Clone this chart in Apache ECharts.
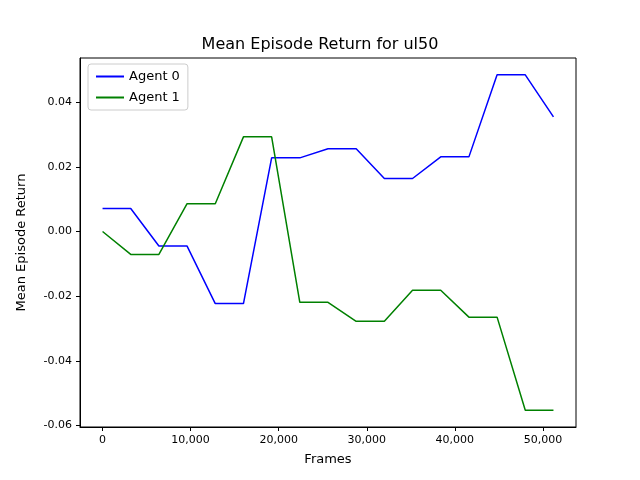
<!DOCTYPE html>
<html>
<head>
<meta charset="utf-8">
<script src="https://cdn.jsdelivr.net/npm/echarts@6/dist/echarts.min.js"></script>
<style>html,body{margin:0;padding:0;background:#fff}#chart{width:640px;height:480px}</style>
</head>
<body>
<div id="chart"></div>
<script>
var frames = [0, 3200, 6400, 9600, 12800, 16000, 19200, 22400, 25600, 28800, 32000, 35200, 38400, 41600, 44800, 48000, 51200];
var agent0 = [0.0071, 0.0071, -0.0045, -0.0045, -0.0223, -0.0223, 0.0228, 0.0228, 0.0256, 0.0256, 0.0164, 0.0164, 0.0231, 0.0231, 0.0485, 0.0485, 0.0355];
var agent1 = [0.0, -0.0071, -0.0071, 0.0086, 0.0086, 0.0293, 0.0293, -0.0219, -0.0219, -0.0278, -0.0278, -0.0182, -0.0182, -0.0265, -0.0265, -0.0553, -0.0553];
var xTicks = [0, 10000, 20000, 30000, 40000, 50000];
var yTicks = [-0.06, -0.04, -0.02, 0.00, 0.02, 0.04];

function pairs(ys) { return frames.map(function (f, i) { return [f, ys[i]]; }); }
var font = 'DejaVu Sans';

var chart = echarts.init(document.getElementById('chart'));
chart.setOption({
  animation: false,
  title: { text: 'Mean Episode Return for ul50', left: 'center', top: 32,
    textStyle: { fontFamily: font, fontSize: 16, fontWeight: 'normal', color: '#000' } },
  legend: {
    orient: 'vertical', left: 88, top: 64, itemWidth: 28, itemHeight: 2, itemGap: 8,
    backgroundColor: '#fff', borderColor: '#ccc', borderWidth: 1, borderRadius: 3, padding: [6, 8],
    textStyle: { fontFamily: font, fontSize: 13, color: '#000' },
    data: [{ name: 'Agent 0', icon: 'rect' }, { name: 'Agent 1', icon: 'rect' }]
  },
  grid: { left: 80, right: 64, top: 58, bottom: 53 },
  xAxis: {
    type: 'value', min: -2560, max: 53760, name: 'Frames', nameLocation: 'middle', nameGap: 26,
    nameTextStyle: { fontFamily: font, fontSize: 13, color: '#000' },
    splitLine: { show: false },
    axisLine: { onZero: false, lineStyle: { color: '#000' } },
    axisTick: { customValues: xTicks, length: 4, lineStyle: { color: '#000' } },
    axisLabel: { customValues: xTicks, fontFamily: font, fontSize: 11, color: '#000' }
  },
  yAxis: {
    type: 'value', min: -0.0605, max: 0.0537, name: 'Mean Episode Return', nameLocation: 'middle', nameGap: 52,
    nameTextStyle: { fontFamily: font, fontSize: 13, color: '#000' },
    splitLine: { show: false },
    axisLine: { show: true, onZero: false, lineStyle: { color: '#000' } },
    axisTick: { show: true, customValues: yTicks, length: 4, lineStyle: { color: '#000' } },
    axisLabel: { customValues: yTicks, fontFamily: font, fontSize: 11, color: '#000',
      formatter: function (v) { return v.toFixed(2); } }
  },
  series: [
    { name: 'Agent 0', type: 'line', data: pairs(agent0), showSymbol: false, color: '#0000ff', lineStyle: { width: 1.5 } },
    { name: 'Agent 1', type: 'line', data: pairs(agent1), showSymbol: false, color: '#008000', lineStyle: { width: 1.5 } }
  ]
});
// frame on top/right like matplotlib
chart.setOption({ graphic: [{ type: 'rect', shape: { x: 80, y: 58, width: 496, height: 369 },
  style: { fill: 'none', stroke: '#000', lineWidth: 1 }, silent: true }] });
</script>
</body>
</html>
